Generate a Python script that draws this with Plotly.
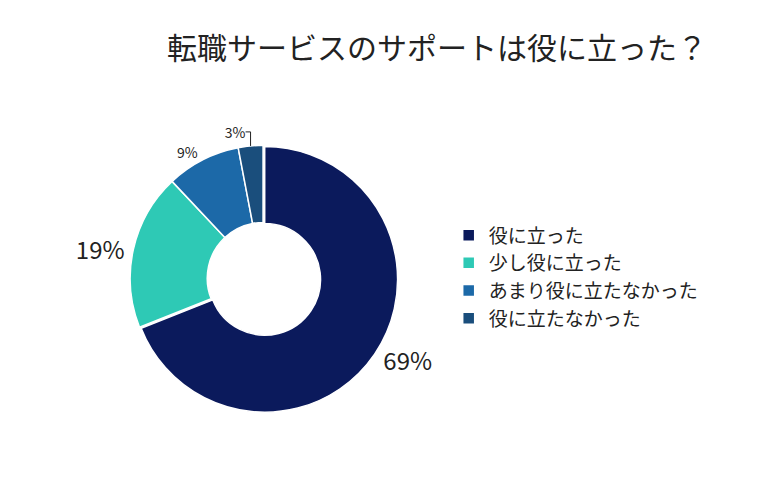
import plotly.graph_objects as go

labels = ["役に立った", "少し役に立った", "あまり役に立たなかった", "役に立たなかった"]
values = [69, 19, 9, 3]
colors = ["#0b1a5c", "#2ec9b5", "#1c69a8", "#1a4e7c"]
text_sizes = [24, 24, 14, 14]

fig = go.Figure(go.Pie(
    labels=labels, values=values, hole=0.42, sort=False, direction="clockwise", rotation=0,
    marker=dict(colors=colors, line=dict(color="white", width=1.5)),
    textinfo="percent", textposition="outside", texttemplate="%{value}%",
    textfont=dict(size=text_sizes, color="#222"),
    domain=dict(x=[0.154, 0.5], y=[0.156, 0.718]),
    pull=[0.015, 0, 0, 0],
))
fig.update_layout(
    width=780, height=480, margin=dict(l=0, r=0, t=0, b=0),
    paper_bgcolor="white",
    font=dict(family="Noto Sans CJK JP", color="#222"),
    title=dict(text="転職サービスのサポートは役に立った？", x=0.55, xanchor="center", y=0.915, yanchor="middle",
               font=dict(size=30, color="#222")),
    legend=dict(x=0.565, y=0.44, xanchor="left", yanchor="middle", font=dict(size=19)),
)
fig.write_html("out.html")
